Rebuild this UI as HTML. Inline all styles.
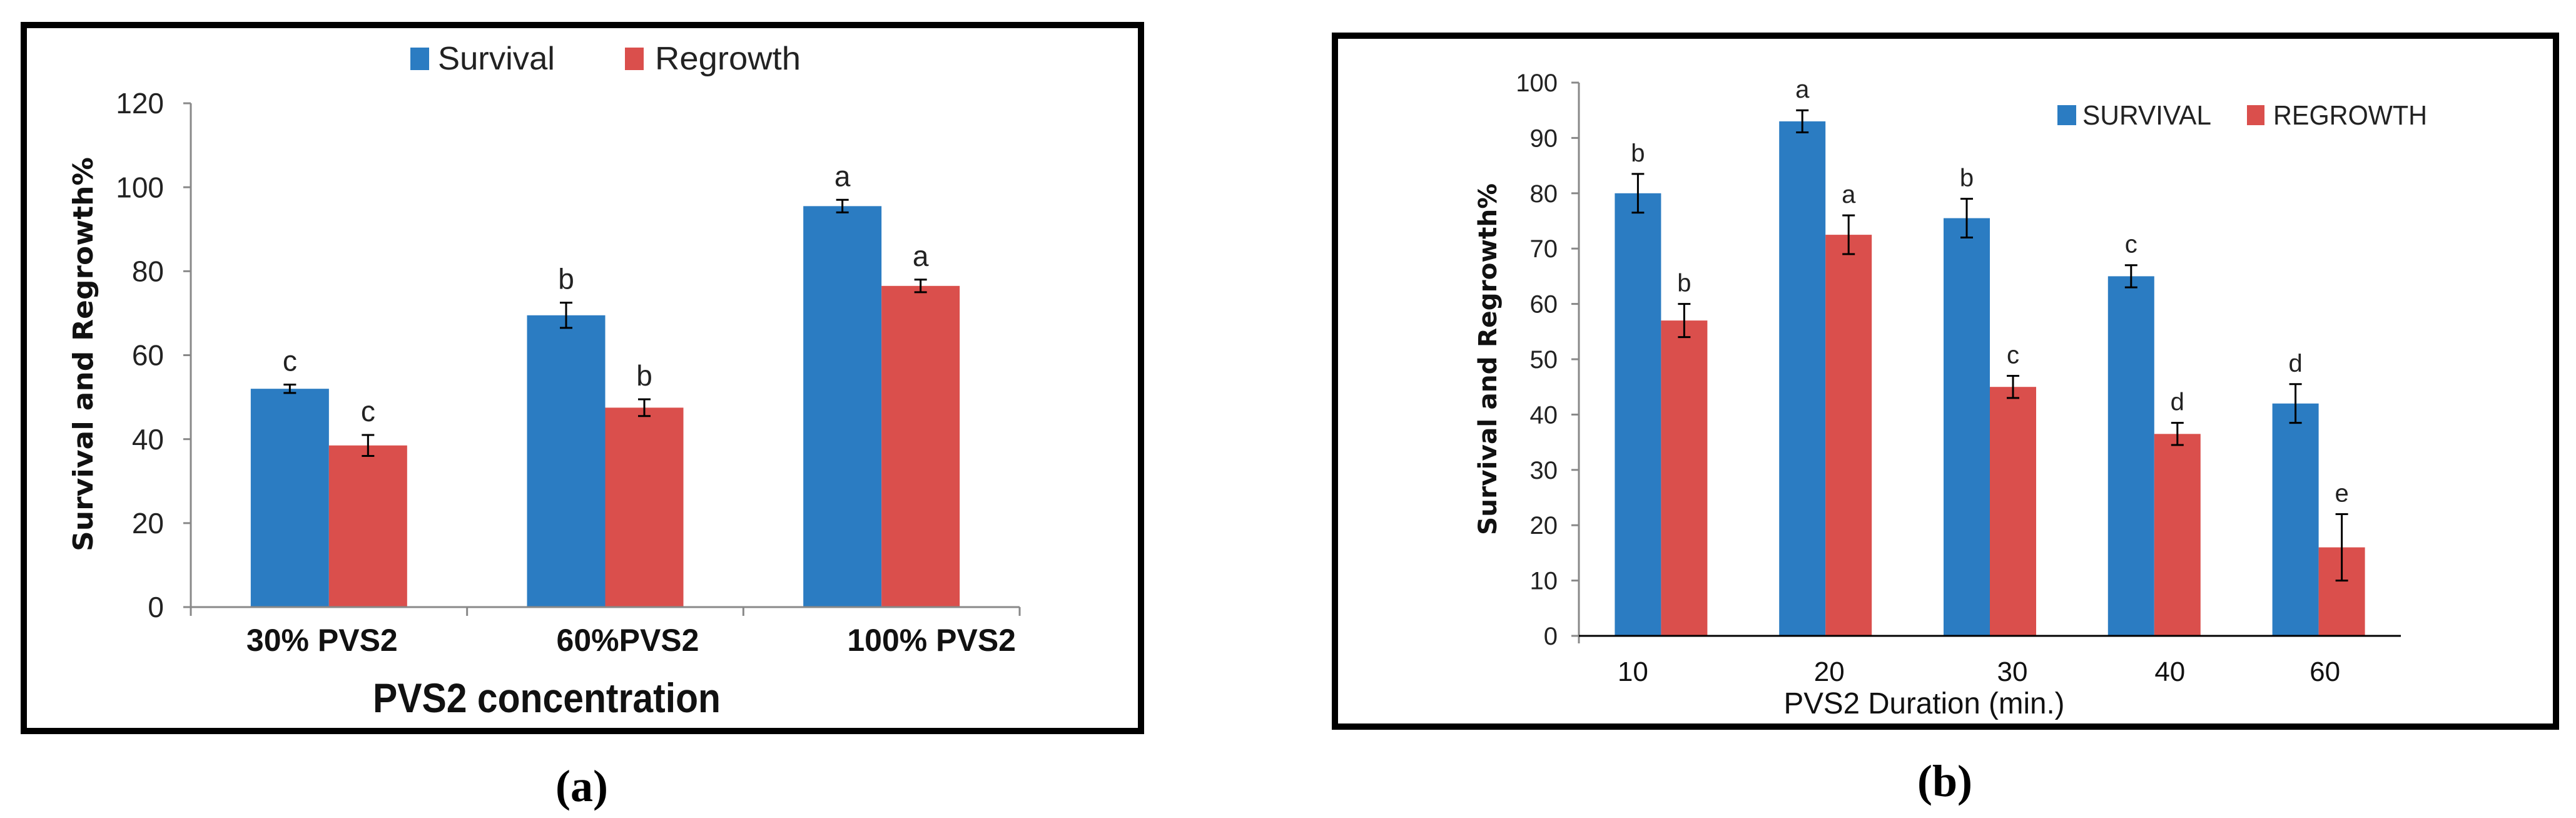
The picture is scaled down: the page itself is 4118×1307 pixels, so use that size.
<!DOCTYPE html>
<html><head><meta charset="utf-8">
<style>
html,body{margin:0;padding:0;background:#fff;}
svg{display:block;}
text{font-family:"Liberation Sans Narrow","Liberation Sans",sans-serif;}
</style></head>
<body>
<svg id="s" width="4118" height="1307" viewBox="0 0 4118 1307" xmlns="http://www.w3.org/2000/svg">
<rect x="0" y="0" width="4118" height="1307" fill="#fff"/>
<rect x="38" y="40" width="1786" height="1128" fill="none" stroke="#000" stroke-width="10"/>
<rect x="2134" y="57" width="1952" height="1104" fill="none" stroke="#000" stroke-width="10"/>
<g id="ga"></g>
<g id="gb"></g>
<text x="930" y="1280" text-anchor="middle" font-size="72" font-weight="bold" style="font-family:'Liberation Serif',serif">(a)</text>
<text x="3109" y="1272" text-anchor="middle" font-size="72" font-weight="bold" style="font-family:'Liberation Serif',serif">(b)</text>
<g>
<rect x="656" y="76" width="30" height="36" fill="#2b7cc2"/>
<text x="700" y="111" font-size="52" fill="#222" textLength="187" lengthAdjust="spacingAndGlyphs">Survival</text>
<rect x="999" y="76" width="30" height="36" fill="#da4f4c"/>
<text x="1047" y="111" font-size="52" fill="#222" textLength="233" lengthAdjust="spacingAndGlyphs">Regrowth</text>
</g>
<text transform="translate(148,566) rotate(-90)" text-anchor="middle" font-size="44" font-weight="bold" fill="#111" textLength="630" lengthAdjust="spacingAndGlyphs" style="font-family:'DejaVu Sans',sans-serif">Survival and Regrowth%</text>
<text x="874" y="1138" text-anchor="middle" font-size="66" font-weight="bold" fill="#111" textLength="556" lengthAdjust="spacingAndGlyphs">PVS2 concentration</text>
<g>
<rect x="3289" y="168" width="30" height="32" fill="#2b7cc2"/>
<text x="3329" y="199" font-size="44" fill="#222" textLength="206" lengthAdjust="spacingAndGlyphs">SURVIVAL</text>
<rect x="3592" y="168" width="28" height="32" fill="#da4f4c"/>
<text x="3634" y="199" font-size="44" fill="#222" textLength="246" lengthAdjust="spacingAndGlyphs">REGROWTH</text>
</g>
<text transform="translate(2392,574) rotate(-90)" text-anchor="middle" font-size="40" font-weight="bold" fill="#111" textLength="562" lengthAdjust="spacingAndGlyphs" style="font-family:'DejaVu Sans',sans-serif">Survival and Regrowth%</text>
<text x="3076" y="1140" text-anchor="middle" font-size="48" fill="#111" textLength="449" lengthAdjust="spacingAndGlyphs">PVS2 Duration (min.)</text>
</svg>
<script>
// Panel a data
const catsA = ["30% PVS2","60%PVS2","100% PVS2"];
const survA = [52, 69.5, 95.5];
const survErrA = [1, 3, 1.5];
const regA = [38.5, 47.5, 76.5];
const regErrA = [2.5, 2, 1.5];
const survLetA = ["c","b","a"];
const regLetA = ["c","b","a"];
const ticksA = [0,20,40,60,80,100,120];
// Panel b data
const catsB = ["10","20","30","40","60"];
const survB = [80, 93, 75.5, 65, 42];
const survErrB = [3.5, 2, 3.5, 2, 3.5];
const regB = [57, 72.5, 45, 36.5, 16];
const regErrB = [3, 3.5, 2, 2, 6];
const survLetB = ["b","a","b","c","d"];
const regLetB = ["b","a","c","d","e"];
const ticksB = [0,10,20,30,40,50,60,70,80,90,100];

const NS = "http://www.w3.org/2000/svg";
const BLUE = "#2b7cc2", RED = "#da4f4c";
function mk(parent, tag, attrs, txt){
  const e = document.createElementNS(NS, tag);
  for (const k in attrs) e.setAttribute(k, attrs[k]);
  if (txt !== undefined) e.textContent = txt;
  parent.appendChild(e);
  return e;
}

function drawChart(g, cfg){
  const y = v => cfg.y0 - (v - 0) / cfg.ymax * (cfg.y0 - cfg.yTop);
  const n = cfg.cats.length;
  const cw = (cfg.x1 - cfg.x0) / n;
  const cx = i => cfg.x0 + cw * (i + 0.5);
  const ya = mk(g, "line", {x1:cfg.x0, y1:cfg.yTop, x2:cfg.x0, y2:cfg.y0 + 12, stroke:"#888", "stroke-width":3});
  
  
  cfg.ticks.forEach(t => {
    const tl = mk(g, "line", {x1:cfg.x0 - 12, y1:y(t), x2:cfg.x0, y2:y(t), stroke:"#888", "stroke-width":3});
    
    
    const tx = mk(g, "text", {x:cfg.tickX, y:y(t) + cfg.tickFs*0.35, "text-anchor":"end", "font-size":cfg.tickFs, fill:"#222"}, String(t));
    
    
  });
  const bw = cfg.bw;
  for (let i = 0; i < n; i++){
    const series = [
      {v:cfg.surv[i], e:cfg.survErr[i], l:cfg.survLet[i], c:BLUE, x:cx(i) - bw, nm:'survival-bar'},
      {v:cfg.reg[i], e:cfg.regErr[i], l:cfg.regLet[i], c:RED, x:cx(i), nm:'regrowth-bar'}
    ];
    series.forEach(s => {
      const r = mk(g, "rect", {x:s.x, y:y(s.v), width:bw, height:cfg.y0 - y(s.v), fill:s.c});
      
      
      const mx = s.x + bw/2;
      const top = y(s.v + s.e), bot = y(s.v - s.e);
      const eb = mk(g, "path", {d:`M${mx},${top}V${bot}M${mx-10},${top}H${mx+10}M${mx-10},${bot}H${mx+10}`, stroke:"#000", "stroke-width":3, fill:"none"});
      
      
      const lt = mk(g, "text", {x:mx, y:top - cfg.letGap, "text-anchor":"middle", "font-size":cfg.letFs, fill:"#222"}, s.l);
      
      
    });
  }
  const xa = mk(g, "line", {x1:cfg.x0, y1:cfg.y0, x2:cfg.x1, y2:cfg.y0, stroke:cfg.xAxisColor, "stroke-width":3});
  
  
  if (cfg.xTicks){
    for (let i = 0; i <= n; i++){
      const xt = mk(g, "line", {x1:cfg.x0 + cw*i, y1:cfg.y0, x2:cfg.x0 + cw*i, y2:cfg.y0 + 14, stroke:"#888", "stroke-width":3});
      
      
    }
  }
  cfg.cats.forEach((c, i) => {
    const t = mk(g, "text", {x:cx(i) + cfg.labOff[i], y:cfg.labY, "text-anchor":"middle", "font-size":cfg.labFs, "font-weight":cfg.labW, fill:"#111"}, c);
    
    
  });
}

const ga = document.getElementById("ga");
drawChart(ga, {cats:catsA, surv:survA, survErr:survErrA, reg:regA, regErr:regErrA, survLet:survLetA, regLet:regLetA,
  ticks:ticksA, ymax:120, x0:305, x1:1630, y0:970, yTop:165, bw:125, tickX:262, tickFs:46, letFs:46, letGap:22,
  labY:1040, labFs:50, labW:"bold", labOff:[-11,36,80], xAxisColor:"#888", xTicks:true});
const gb = document.getElementById("gb");
drawChart(gb, {cats:catsB, surv:survB, survErr:survErrB, reg:regB, regErr:regErrB, survLet:survLetB, regLet:regLetB,
  ticks:ticksB, ymax:100, x0:2524, x1:3838, y0:1016, yTop:132, bw:74, tickX:2490, tickFs:40, letFs:40, letGap:20,
  labY:1088, labFs:44, labW:"normal", labOff:[-45,6,36,25,10], xAxisColor:"#000", xTicks:false});
</script>
</body></html>
